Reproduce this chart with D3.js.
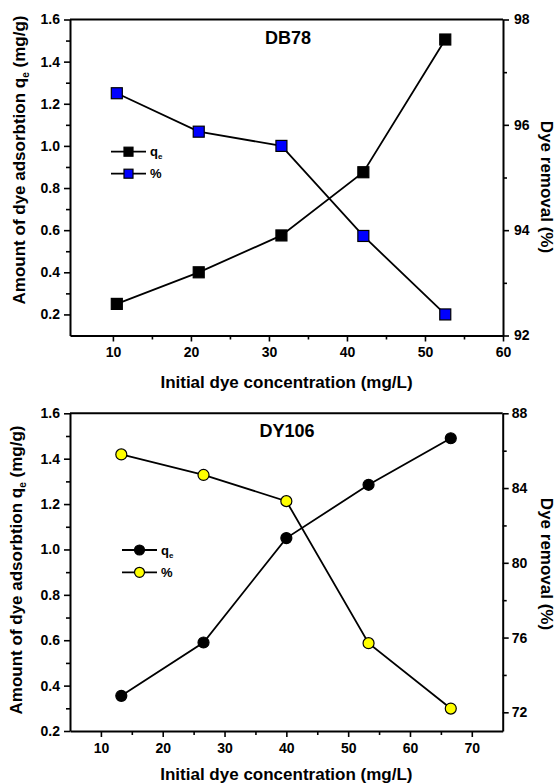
<!DOCTYPE html>
<html>
<head>
<meta charset="utf-8">
<script src="https://cdn.jsdelivr.net/npm/d3@7"></script>
<style>
  html, body { margin: 0; padding: 0; background: #fff; }
  text { font-family: "Liberation Sans", Arial, sans-serif; font-weight: bold; fill: #000; }
</style>
</head>
<body>
<svg id="chart" width="558" height="784"></svg>
<script>
// ---- data ----
const db78Conc = [10.5, 21.0, 31.6, 42.1, 52.6];
const db78Qe = [0.25, 0.40, 0.575, 0.875, 1.505];
const db78Removal = [96.6, 95.87, 95.6, 93.89, 92.4];

const dy106Conc = [13.3, 26.6, 40.0, 53.3, 66.6];
const dy106Qe = [0.355, 0.59, 1.05, 1.285, 1.49];
const dy106Removal = [85.8, 84.7, 83.3, 75.7, 72.2];

const db78XTicks = [10, 20, 30, 40, 50, 60];
const db78XMinor = [15, 25, 35, 45, 55];
const db78LeftTicks = [0.2, 0.4, 0.6, 0.8, 1.0, 1.2, 1.4, 1.6];
const db78LeftMinor = [0.3, 0.5, 0.7, 0.9, 1.1, 1.3, 1.5];
const db78RightTicks = [92, 94, 96, 98];
const db78RightMinor = [93, 95, 97];

const dy106XTicks = [10, 20, 30, 40, 50, 60, 70];
const dy106XMinor = [15, 25, 35, 45, 55, 65];
const dy106LeftTicks = [0.2, 0.4, 0.6, 0.8, 1.0, 1.2, 1.4, 1.6];
const dy106LeftMinor = [0.3, 0.5, 0.7, 0.9, 1.1, 1.3, 1.5];
const dy106RightTicks = [72, 76, 80, 84, 88];
const dy106RightMinor = [74, 78, 82, 86];

const svg = d3.select("#chart");

function panel(cfg) {
  const g = svg.append("g");
  const x = d3.scaleLinear().domain(cfg.xDomain).range([cfg.left, cfg.right]);
  const yL = d3.scaleLinear().domain(cfg.yLDomain).range([cfg.bottom, cfg.top]);
  const yR = d3.scaleLinear().domain(cfg.yRDomain).range([cfg.bottom, cfg.top]);

  // top frame line
  g.append("line").attr("x1", cfg.left).attr("x2", cfg.right)
    .attr("y1", cfg.top).attr("y2", cfg.top)
    .attr("stroke", "#000").attr("stroke-width", 2);

  function styleAxis(sel) {
    sel.selectAll("path.domain").attr("stroke", "#000").attr("stroke-width", 2);
    sel.selectAll(".tick line").attr("stroke", "#000").attr("stroke-width", 1.6);
    sel.selectAll("text").style("font-size", "14px").style("font-weight", "bold")
      .style("font-family", "'Liberation Sans', Arial, sans-serif").attr("fill", "#000");
  }

  // bottom axis
  const xb = g.append("g").attr("transform", `translate(0,${cfg.bottom})`)
    .call(d3.axisBottom(x).tickValues(cfg.xTicks).tickSize(6).tickPadding(6).tickSizeOuter(0).tickFormat(d3.format("d")));
  styleAxis(xb);
  g.append("g").attr("transform", `translate(0,${cfg.bottom})`)
    .call(d3.axisBottom(x).tickValues(cfg.xMinor).tickSize(4).tickSizeOuter(0).tickFormat(""))
    .call(s => { s.select("path.domain").remove(); s.selectAll(".tick line").attr("stroke", "#000").attr("stroke-width", 1.6); });

  // left axis
  const yl = g.append("g").attr("transform", `translate(${cfg.left},0)`)
    .call(d3.axisLeft(yL).tickValues(cfg.yLTicks).tickSize(6).tickPadding(4).tickSizeOuter(0).tickFormat(d3.format(".1f")));
  styleAxis(yl);
  g.append("g").attr("transform", `translate(${cfg.left},0)`)
    .call(d3.axisLeft(yL).tickValues(cfg.yLMinor).tickSize(4).tickSizeOuter(0).tickFormat(""))
    .call(s => { s.select("path.domain").remove(); s.selectAll(".tick line").attr("stroke", "#000").attr("stroke-width", 1.6); });

  // right axis
  const yr = g.append("g").attr("transform", `translate(${cfg.right},0)`)
    .call(d3.axisRight(yR).tickValues(cfg.yRTicks).tickSize(6).tickPadding(cfg.rPad).tickSizeOuter(0).tickFormat(d3.format("d")));
  styleAxis(yr);
  g.append("g").attr("transform", `translate(${cfg.right},0)`)
    .call(d3.axisRight(yR).tickValues(cfg.yRMinor).tickSize(4).tickSizeOuter(0).tickFormat(""))
    .call(s => { s.select("path.domain").remove(); s.selectAll(".tick line").attr("stroke", "#000").attr("stroke-width", 1.6); });

  // lines
  const qeData = cfg.conc.map((c, i) => [c, cfg.qe[i]]);
  const remData = cfg.conc.map((c, i) => [c, cfg.removal[i]]);
  g.append("path").datum(qeData)
    .attr("d", d3.line().x(d => x(d[0])).y(d => yL(d[1])))
    .attr("fill", "none").attr("stroke", "#000").attr("stroke-width", 1.8);
  g.append("path").datum(remData)
    .attr("d", d3.line().x(d => x(d[0])).y(d => yR(d[1])))
    .attr("fill", "none").attr("stroke", "#000").attr("stroke-width", 1.8);

  function marker(sel, px, py, fill, size) {
    if (cfg.shape === "square") {
      sel.append("rect").attr("x", px - size / 2).attr("y", py - size / 2)
        .attr("width", size).attr("height", size)
        .attr("fill", fill).attr("stroke", "#000").attr("stroke-width", 1.2);
    } else {
      sel.append("circle").attr("cx", px).attr("cy", py).attr("r", size / 2)
        .attr("fill", fill).attr("stroke", "#000").attr("stroke-width", 1.2);
    }
  }
  qeData.forEach(d => marker(g, x(d[0]), yL(d[1]), "#000", 11));
  remData.forEach(d => marker(g, x(d[0]), yR(d[1]), cfg.remColor, 11));

  // panel label
  g.append("text").attr("x", cfg.labelX).attr("y", cfg.labelY)
    .attr("text-anchor", "middle").style("font-size", "18px").text(cfg.label);

  // legend
  const rows = [{ fill: "#000", t: "q", sub: "e" }, { fill: cfg.remColor, t: "%", sub: null }];
  rows.forEach((r, i) => {
    const ly = cfg.legY + i * cfg.legGap;
    g.append("line").attr("x1", cfg.legX1).attr("x2", cfg.legX2).attr("y1", ly).attr("y2", ly)
      .attr("stroke", "#000").attr("stroke-width", 1.8);
    marker(g, (cfg.legX1 + cfg.legX2) / 2, ly, r.fill, cfg.shape === "square" ? 9 : 10);
    const t = g.append("text").attr("x", cfg.legX2 + 4).attr("y", ly + 4.5).style("font-size", "13px").text(r.t);
    if (r.sub) t.append("tspan").attr("dy", 3).style("font-size", "8px").text(r.sub);
  });

  // x title
  g.append("text").attr("x", (cfg.left + cfg.right) / 2).attr("y", cfg.xTitleY)
    .attr("text-anchor", "middle").style("font-size", "17px").text("Initial dye concentration (mg/L)");

  // left title
  const lt = g.append("text").attr("transform", `translate(${cfg.lTitleX},${cfg.lTitleY}) rotate(-90)`)
    .attr("text-anchor", "middle").style("font-size", "17px");
  lt.append("tspan").text("Amount of dye adsorbtion q");
  lt.append("tspan").attr("dy", 4).style("font-size", "10px").text("e");
  lt.append("tspan").attr("dy", -4).text(" (mg/g)");

  // right title
  g.append("text").attr("transform", `translate(${cfg.rTitleX},${cfg.rTitleY}) rotate(90)`)
    .attr("text-anchor", "middle").style("font-size", "17px").text("Dye removal (%)");
}

panel({
  left: 70, right: 503, top: 19.5, bottom: 335.5,
  xDomain: [4.5, 60], yLDomain: [0.1, 1.6], yRDomain: [92, 98],
  xTicks: db78XTicks, xMinor: db78XMinor,
  yLTicks: db78LeftTicks, yLMinor: db78LeftMinor,
  yRTicks: db78RightTicks, yRMinor: db78RightMinor, rPad: 5,
  conc: db78Conc, qe: db78Qe, removal: db78Removal,
  shape: "square", remColor: "#0000ff",
  label: "DB78", labelX: 288, labelY: 43.5,
  legX1: 111, legX2: 146, legY: 151.7, legGap: 22,
  xTitleY: 388, lTitleX: 25, lTitleY: 160, rTitleX: 541, rTitleY: 187
});

panel({
  left: 70, right: 502.7, top: 413.3, bottom: 731,
  xDomain: [5, 75], yLDomain: [0.2, 1.6], yRDomain: [71, 88],
  xTicks: dy106XTicks, xMinor: dy106XMinor,
  yLTicks: dy106LeftTicks, yLMinor: dy106LeftMinor,
  yRTicks: dy106RightTicks, yRMinor: dy106RightMinor, rPad: 3,
  conc: dy106Conc, qe: dy106Qe, removal: dy106Removal,
  shape: "circle", remColor: "#ffff00",
  label: "DY106", labelX: 287, labelY: 437,
  legX1: 122, legX2: 157, legY: 550, legGap: 22.3,
  xTitleY: 780, lTitleX: 22, lTitleY: 570, rTitleX: 541, rTitleY: 564
});
</script>
</body>
</html>
